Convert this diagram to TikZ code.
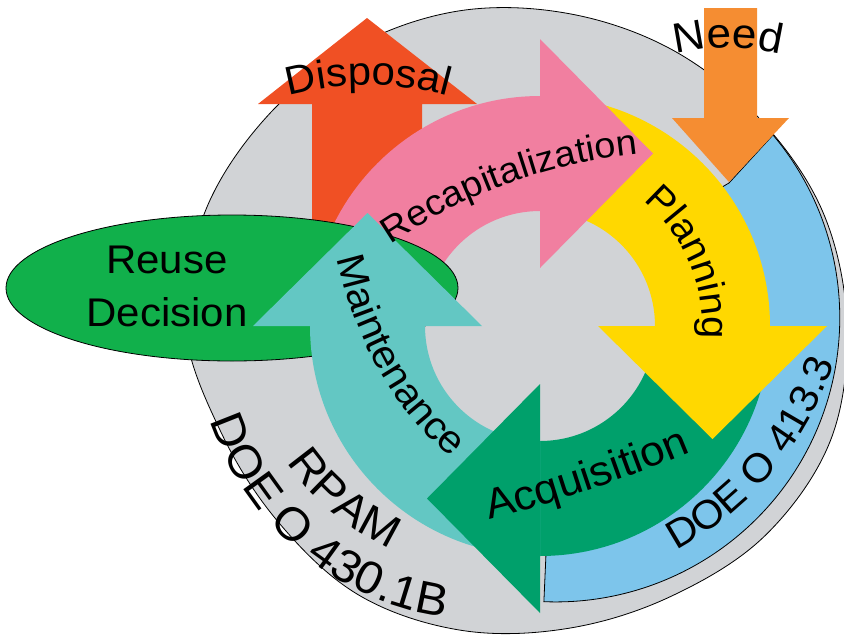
\documentclass[tikz,border=0pt]{standalone}
\usepackage{fontspec}
\setmainfont{Liberation Sans}[FakeStretch=1.05]
\usepackage{tikz}
\usetikzlibrary{decorations.text}

\definecolor{discgray}{RGB}{209,211,214}
\definecolor{orderblue}{RGB}{125,197,235}
\definecolor{recappink}{RGB}{241,127,160}
\definecolor{planyellow}{RGB}{255,216,0}
\definecolor{acqgreen}{RGB}{0,160,107}
\definecolor{mainteal}{RGB}{99,199,195}
\definecolor{reusegreen}{RGB}{17,176,75}
\definecolor{disposered}{RGB}{240,80,36}
\definecolor{needorange}{RGB}{245,141,50}

\newcommand{\labelsize}[1]{\fontsize{#1}{#1}\selectfont}

\tikzset{
  outline/.style={draw=black, line width=0.8pt},
  curvedlabel/.style 2 args={decorate,
    decoration={text along path, text align=center, text={|\labelsize{#1}|#2}}}
}

\begin{document}
\begin{tikzpicture}[x=1pt, y=-1pt]
    \useasboundingbox (0,0) rectangle (844,638);

    % Gray disc behind everything
    \draw[outline, fill=discgray] plot[smooth cycle, tension=0.6] coordinates {
      (847,325) (830.7,439.9) (765.5,535.2) (671.5,596.1) (568.5,628.3)
      (461.2,630.3) (359,595.2) (279.1,523) (220.9,432) (185,325)
      (204.9,212.1) (266.8,116.7) (354.5,47) (459.6,10.8) (569.9,13.8)
      (673.5,50.5) (760.1,119.3) (823.2,212.8)};

    % Blue band (DOE O 413.3)
    \draw[outline, fill=orderblue] (700,200) -- (729,183) -- (773,135)
      arc[start angle=-40.1, end angle=92.4, radius=284]
      -- ([shift={(92.4:186)}]556,318)
      arc[start angle=92.4, end angle=-39.3, radius=186] -- cycle;

    % Disposal and Need arrows
    \fill[disposered] (312,280) -- (312,104) -- (258,104) -- (367,18)
      -- (477,104) -- (422,104) -- (422,280) -- cycle;
    \fill[needorange] (704,8) -- (704,118) -- (672,118) -- (729,182)
      -- (789,118) -- (757,118) -- (757,8) -- cycle;

    % Cycle: pink body first, it goes under the ellipse
    \begin{scope}[shift={(540,326)}]
      \fill[recappink] (180:230) arc[start angle=180, end angle=270, radius=230]
        -- (270:115) arc[start angle=270, end angle=180, radius=115] -- cycle;
    \end{scope}

    % Reuse decision ellipse
    \draw[outline, fill=reusegreen] (232,288) ellipse[x radius=226, y radius=73];

    \begin{scope}[shift={(540,326)}]
      % other bodies
      \foreach \s/\h/\col in {270/360/planyellow, 0/90/acqgreen, 90/180/mainteal}
        \fill[\col] (\s:230) arc[start angle=\s, end angle=\h, radius=230]
          -- (\h:115) arc[start angle=\h, end angle=\s, radius=115] -- cycle;
      % heads
      \foreach \h/\t/\col in {270/360/recappink, 360/450/planyellow,
                              90/180/acqgreen, 180/270/mainteal}
        \fill[\col] (\h:58) -- (\h:287)
          -- ({172.5*cos(\h)+113*cos(\t)}, {172.5*sin(\h)+113*sin(\t)}) -- cycle;
    \end{scope}

    % Labels
    \node[align=center, font=\fontsize{40}{53}\selectfont] (reuse) at (167,286) {Reuse\\Decision};

    \path[curvedlabel={40}{Disposal}] ([shift={(248:300)}]368,385)
      arc[start angle=248, end angle=292, radius=300];
    \path[curvedlabel={42}{Need}] ([shift={(248:214)}]728,262)
      arc[start angle=248, end angle=292, radius=214];
    \path[curvedlabel={36}{Recapitalization}] ([shift={(232:542)}]694,693)
      arc[start angle=232, end angle=268, radius=542];
    \path[curvedlabel={38}{Planning}] ([shift={(302:162)}]540,326)
      arc[start angle=302, end angle=372, radius=162];
    \path[curvedlabel={42}{Acquisition}] (480,522) .. controls (550,505) and (630,478) .. (700,448);
    \path[curvedlabel={39}{Maintenance}] (333,238) .. controls (350,330) and (392,418) .. (468,470);
    \path[curvedlabel={40}{DOE O 413.3}] ([shift={(68:328)}]522,261)
      arc[start angle=68, end angle=12, radius=328];
    \path[curvedlabel={45}{RPAM}] ([shift={(152:239)}]486,330)
      arc[start angle=152, end angle=108, radius=239];
    \path[curvedlabel={46}{DOE O 430.1B}] ([shift={(172:290)}]486,330)
      arc[start angle=172, end angle=88, radius=290];
\end{tikzpicture}
\end{document}
